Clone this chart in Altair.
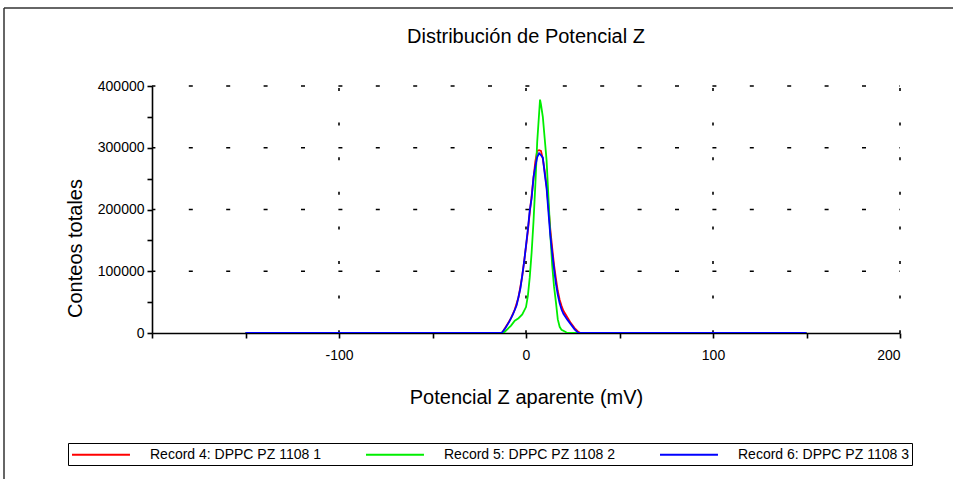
import altair as alt
import pandas as pd

series_names = ["Record 4: DPPC PZ 1108 1", "Record 5: DPPC PZ 1108 2", "Record 6: DPPC PZ 1108 3"]
series_colors = ["#ff0000", "#00ee00", "#0000ff"]

red_x = [-150, -13, -12, -10, -8, -6, -4, -2, 0, 1, 2, 3, 4, 5, 6, 7, 8, 9, 10, 11, 12, 13, 14, 15, 16, 17, 18, 19, 20, 22, 24, 26, 28, 29, 150]
red_y = [0, 0, 4000, 14000, 24000, 38000, 58000, 92000, 140000, 165000, 195000, 222000, 250000, 278000, 295000, 296000, 295000, 282000, 262000, 238000, 205000, 168000, 138000, 110000, 88000, 68000, 54000, 44000, 36000, 26000, 16000, 8000, 2000, 0, 0]

green_x = [-150, -12, -10, -8, -6, -4, -2, 0, 1, 2, 3, 4, 5, 6, 7, 7.5, 8, 9, 10, 11, 12, 13, 14, 15, 16, 17, 18, 19, 21, 22, 150]
green_y = [0, 0, 6000, 12000, 20000, 24000, 30000, 42000, 60000, 90000, 130000, 180000, 240000, 310000, 355000, 378000, 370000, 350000, 315000, 280000, 220000, 160000, 110000, 75000, 50000, 22000, 10000, 5000, 2000, 0, 0]

blue_x = [-150, -14, -13, -11, -9, -7, -5, -3, -1, 1, 2, 3, 4, 5, 6, 7, 8, 9, 10, 11, 12, 13, 14, 15, 16, 17, 18, 19, 20, 22, 24, 26, 28, 150]
blue_y = [0, 0, 0, 8000, 18000, 30000, 45000, 72000, 115000, 168000, 198000, 218000, 252000, 270000, 285000, 291000, 288000, 284000, 258000, 235000, 196000, 158000, 130000, 104000, 80000, 62000, 48000, 38000, 31000, 22000, 14000, 6000, 0, 0]

x_ticks = [-200, -150, -100, -50, 0, 50, 100, 150, 200]
y_ticks = [0, 50000, 100000, 150000, 200000, 250000, 300000, 350000, 400000]
grid_x = [-100, 0, 100, 200]
grid_y = [100000, 200000, 300000, 400000]

rows = []
for name, xs, ys in zip(series_names, [red_x, green_x, blue_x], [red_y, green_y, blue_y]):
    for i, (a, b) in enumerate(zip(xs, ys)):
        rows.append({"serie": name, "x": a, "y": b, "i": i})
df = pd.DataFrame(rows)

FONT = "Liberation Sans"
W, H = 748, 247

xscale = alt.Scale(domain=[-200, 200], nice=False, zero=False)
yscale = alt.Scale(domain=[0, 400000], nice=False)

x_axis = alt.Axis(values=x_ticks, title="Potencial Z aparente (mV)",
                  labelExpr="(datum.value % 100 === 0 && datum.value !== -200) ? ('' + datum.value) : ''",
                  grid=False, domainColor="black", domainWidth=1.6, tickColor="black",
                  tickWidth=1.6, tickSize=5, labelPadding=10, labelFont=FONT, labelFontSize=14,
                  labelColor="black", titleFont=FONT, titleFontSize=20, titleFontWeight="normal",
                  titleColor="black", titleBaseline="middle", titleY=64)
y_axis = alt.Axis(values=y_ticks, title="Conteos totales",
                  labelExpr="(datum.value % 100000 === 0) ? ('' + datum.value) : ''",
                  grid=False, domainColor="black", domainWidth=1.6, tickColor="black",
                  tickWidth=1.6, tickSize=5, labelPadding=3, labelFont=FONT, labelFontSize=14,
                  labelColor="black", titleFont=FONT, titleFontSize=20, titleFontWeight="normal",
                  titleColor="black", titleX=-77, titleY=162, titleBaseline="middle",
                  titleAlign="center", titleAngle=270)

gx = alt.Chart(pd.DataFrame({"gx": grid_x})).mark_rule(
    color="black", strokeWidth=1.6, strokeDash=[3, 31.6], strokeDashOffset=32.6
).encode(
    x=alt.X("gx:Q", scale=xscale, axis=x_axis),
)

gy = alt.Chart(pd.DataFrame({"gy": grid_y})).mark_rule(
    color="black", strokeWidth=1.6, strokeDash=[4, 33.4], strokeDashOffset=3.4
).encode(
    y=alt.Y("gy:Q", scale=yscale, axis=y_axis),
)

lines = alt.Chart(df).mark_line(strokeWidth=1.8, clip=True).encode(
    x=alt.X("x:Q", scale=xscale, axis=x_axis),
    y=alt.Y("y:Q", scale=yscale, axis=y_axis),
    color=alt.Color("serie:N", scale=alt.Scale(domain=series_names, range=series_colors),
                    legend=alt.Legend(title=None, orient="none", legendX=-84, legendY=357,
                                      direction="horizontal", symbolType="M-1,0H6.73", symbolSize=225,
                                      symbolStrokeWidth=1.8, labelFont=FONT, labelFontSize=14,
                                      labelColor="black", labelOffset=62, columnPadding=41,
                                      labelLimit=400, strokeColor="black", padding=3,
                                      gridAlign="all")),
    order="i:Q",
)

frame_data = alt.Data(values=[{"k": 1}])
frame_left = alt.Chart(frame_data).mark_rule(color="#333333", strokeWidth=1.5).encode(
    x=alt.value(-148), y=alt.value(-78), y2=alt.value(393))
frame_top = alt.Chart(frame_data).mark_rule(color="#333333", strokeWidth=1.5).encode(
    x=alt.value(-148), x2=alt.value(801), y=alt.value(-78))

chart = alt.layer(frame_left, frame_top, gx, gy, lines).properties(
    width=W, height=H,
    title=alt.TitleParams("Distribución de Potencial Z", font=FONT, fontSize=20, fontWeight="normal",
                          color="black", anchor="middle", frame="group", offset=-40),
    autosize=alt.AutoSizeParams(type="none"),
    padding={"left": 152, "top": 86, "right": 53, "bottom": 146},
    background="white",
).configure_view(stroke=None)

chart.save("out.html", embed_options={"renderer": "svg", "actions": False})
